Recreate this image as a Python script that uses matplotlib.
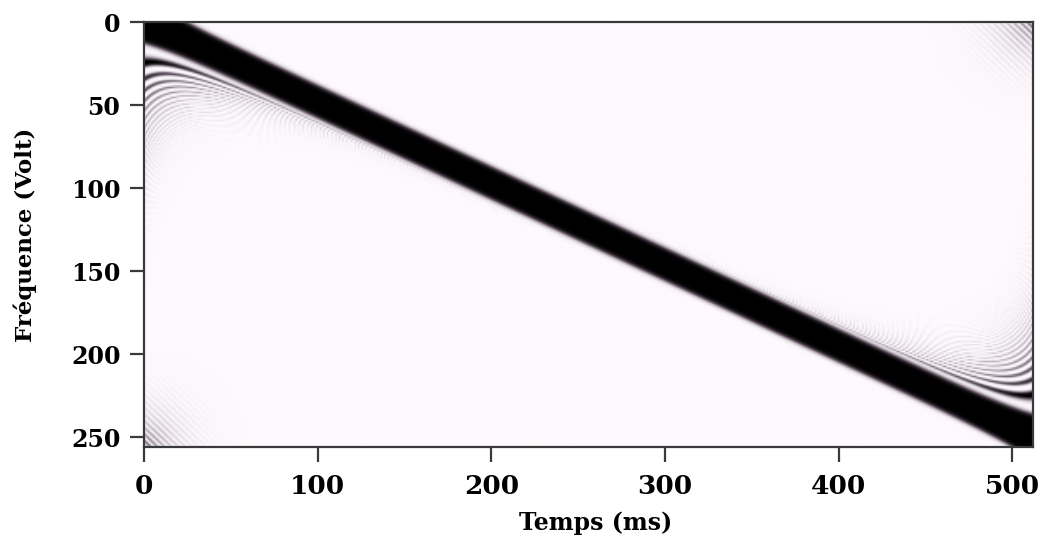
import numpy as np
import matplotlib
matplotlib.use("Agg")
import matplotlib.pyplot as plt
from matplotlib.colors import LinearSegmentedColormap

# chart values
n_time, n_freq = 512, 256
ridge_t = [0, 512]          # ms
ridge_f = [-1, 250]         # frequency bin at those times
band_halfwidth = 9.8        # half thickness of the dark ridge (bins)
band_soft = 0.8             # softness of the ridge edge
edge_boost = 4              # extra thickness at both ends
fringe_first = 102          # phase of the first fringe below the ridge
fringe_period = 215         # spacing of fringes (phase units)
fringe_squeeze = 22         # ms over which fringes bend into the ridge
hatch_period = 4            # corner hatching period (bins)

xticks = [0, 100, 200, 300, 400, 500]
yticks = [0, 50, 100, 150, 200, 250]


def fringes(tt, d):
    # ripples next to the ridge, bending into it and fading away from the edges
    de = np.maximum(d, 0) * (1 + tt / fringe_squeeze)
    amp = 1.7 * np.exp(-de / 28) * np.exp(-tt / 60)
    phase = de ** 2 / (1 + de / 60)
    pat = np.cos(np.pi * (phase - fringe_first) / fringe_period) ** 4
    return np.where(d > 0, amp * pat, 0.0)


def corner(dt, df):
    r = np.hypot(dt, df)
    return 0.6 * np.exp(-r / 12) * np.cos(np.pi * (dt + df) / hatch_period) ** 2


t = np.arange(n_time) + 0.5
f = np.arange(n_freq) + 0.5
T, F = np.meshgrid(t, f)
ridge = np.interp(T, ridge_t, ridge_f)
hw = band_halfwidth + edge_boost * (np.exp(-T / 20) + np.exp(-(n_time - T) / 20))
band = 1 / (1 + np.exp((np.abs(F - ridge) - hw) / band_soft))

Z = band
Z = Z + fringes(T, F - (ridge + hw + 1))
Z = Z + fringes(n_time - T, (ridge - hw - 1) - F)
Z = Z + corner(n_time - T, F) + corner(T, n_freq - F)
Z = np.clip(Z, 0, 1)

cmap = LinearSegmentedColormap.from_list("tf", ["#fdf9fd", "#6e5f6e", "#000000"])

fig = plt.figure(figsize=(10.4, 5.4), dpi=100)
ax = fig.add_axes([0.1385, 0.172, 0.855, 0.787])
ax.imshow(Z, cmap=cmap, vmin=0, vmax=1, extent=[0, n_time, n_freq, 0],
          aspect="auto", interpolation="bilinear")
ax.set_xlim(0, n_time)
ax.set_ylim(n_freq, 0)

for s in ax.spines.values():
    s.set_color("#3a3a3a")
    s.set_linewidth(1.6)

ax.set_xticks(xticks, labels=[str(v) for v in xticks],
              fontfamily="DejaVu Serif", fontweight="bold", fontsize=19)
ax.set_yticks(yticks, labels=[str(v) for v in yticks],
              fontfamily="DejaVu Serif", fontweight="bold", fontsize=17)
ax.tick_params(axis="x", direction="out", length=11, width=1.6,
               color="#3a3a3a", pad=8)
ax.tick_params(axis="y", direction="out", length=10, width=1.6,
               color="#3a3a3a", pad=7)

ax.set_xlabel("Temps (ms)", fontfamily="DejaVu Serif", fontweight="bold",
              fontsize=17)
ax.set_ylabel("Fréquence (Volt)", fontfamily="DejaVu Serif", fontweight="bold",
              fontsize=16.5)
ax.xaxis.set_label_coords(0.508, -0.15)
ax.yaxis.set_label_coords(-0.12, 0.5)

fig.savefig("out.png", dpi=100)
